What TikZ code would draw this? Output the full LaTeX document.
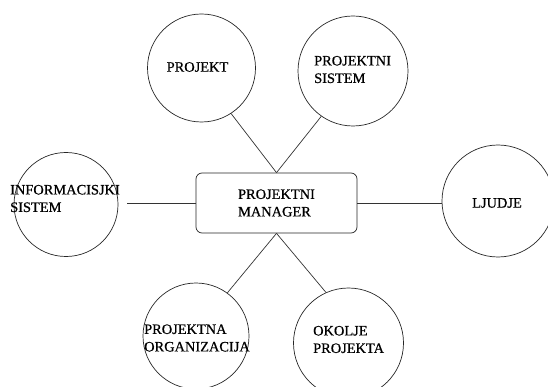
\documentclass[tikz,border=0pt]{standalone}
\usepackage{fontspec}
\setmainfont{Liberation Serif}
\newfontfamily\heavyserif{Liberation Serif}[FakeBold=0.6]
\newcommand\lblfont{\heavyserif\fontsize{14.4}{17.5}\selectfont}
\begin{document}
\begin{tikzpicture}[x=1pt,y=-1pt,
  bubble/.style={circle, draw=black!85, line width=0.7pt, inner sep=0pt, minimum size=#1},
  lbl/.style={align=left, inner sep=0pt, font=\lblfont},
  link/.style={draw=black!80, line width=0.7pt}]
  \useasboundingbox (0,0) rectangle (548,387);
  \clip (0,0) rectangle (548,387);

  % surrounding circles
  \node[bubble=108pt] (proj) at (201.5,68) {};
  \node[bubble=110pt] (sis)  at (353,71) {};
  \node[bubble=104pt] (info) at (66,204.5) {};
  \node[bubble=112pt] (lj)   at (498,201) {};
  \node[bubble=106pt] (org)  at (196,336) {};
  \node[bubble=110pt] (oko)  at (348.5,343) {};

  % central box
  \node[draw=black!85, line width=0.7pt, rounded corners=6pt,
        minimum width=161pt, minimum height=60pt, lbl] (pm) at (276.5,203)
        {PROJEKTNI\\MANAGER};

  % circle captions
  \node[lbl] (tproj) at (197.5,67) {PROJEKT};
  \node[lbl, anchor=west] (tsis) at (314,69.5) {PROJEKTNI\\SISTEM};
  \node[lbl, anchor=west] (tinfo) at (10,198.5) {INFORMACISJKI\\SISTEM};
  \node[lbl] (tlj) at (497,203) {LJUDJE};
  \node[lbl, anchor=west] (torg) at (144,338) {PROJEKTNA\\ORGANIZACIJA};
  \node[lbl, anchor=west] (toko) at (313,339.5) {OKOLJE\\PROJEKTA};

  \coordinate (infoL) at (127,203);

  % connectors
  \draw[link] (proj.-57.7) -- (pm.north);
  \draw[link] (sis.-125.2) -- (pm.north);
  \draw[link] (infoL) -- (pm.west);
  \draw[link] (pm.east) -- (pm.east -| lj.west);
  \draw[link] (pm.south) -- (org.54.8);
  \draw[link] (pm.south) -- (oko.114.7);
\end{tikzpicture}
\end{document}
